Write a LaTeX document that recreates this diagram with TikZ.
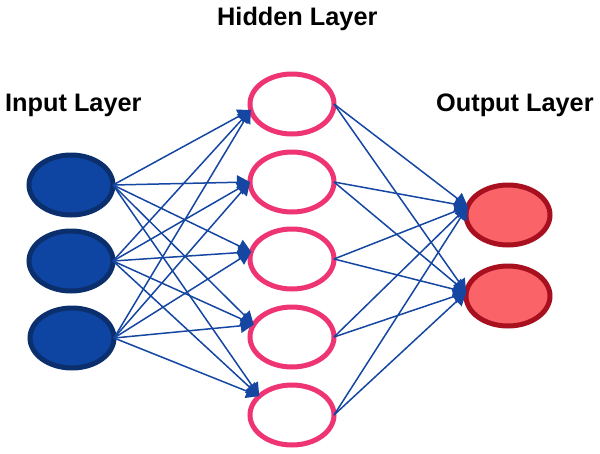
\documentclass[tikz,border=0pt]{standalone}
\usepackage{fontspec}
\setmainfont{Liberation Sans}
\usetikzlibrary{shapes.geometric,arrows.meta}
\definecolor{inFill}{HTML}{0E45A2}
\definecolor{inDraw}{HTML}{0B2F6D}
\definecolor{hidDraw}{HTML}{EF3473}
\definecolor{outFill}{HTML}{FA6468}
\definecolor{outDraw}{HTML}{A8101F}
\definecolor{edgeCol}{HTML}{1446A2}
\tikzset{
  neuron/.style={ellipse, line width=5pt, minimum width=84pt, minimum height=60pt, inner sep=0pt, outer sep=0pt},
  innode/.style={neuron, fill=inFill, draw=inDraw},
  hidnode/.style={neuron, fill=white, draw=hidDraw},
  outnode/.style={neuron, fill=outFill, draw=outDraw},
  conn/.style={draw=edgeCol, line width=1.5pt, -{Triangle[length=13pt,width=14pt]}},
  layerlabel/.style={font=\bfseries\fontsize{25.3}{30}\selectfont, inner sep=0pt, anchor=base west}
}
\begin{document}
\begin{tikzpicture}[x=1pt,y=-1pt]
\useasboundingbox (0,0) rectangle (600,453);
\node[layerlabel] (lh) at (217,25) {Hidden Layer};
\node[layerlabel] (li) at (5,111.5) {Input Layer};
\node[layerlabel] (lo) at (436,111.5) {Output Layer};

\node[innode] (i1) at (71,185) {};
\node[innode] (i2) at (71,261) {};
\node[innode] (i3) at (72,338) {};

\node[hidnode] (h1) at (292,104) {};
\node[hidnode] (h2) at (292,182) {};
\node[hidnode] (h3) at (292,259) {};
\node[hidnode] (h4) at (292,337) {};
\node[hidnode] (h5) at (292,415) {};

\node[outnode] (o1) at (508,215) {};
\node[outnode] (o2) at (508,296) {};

\foreach \h/\a in {h1/188,h2/180,h3/170,h4/162,h5/150}{
  \foreach \i in {i1,i2,i3}{
    \draw[conn] (\i.east) -- (\h.\a);
  }
}
\foreach \o/\a in {o1/168,o2/175}{
  \foreach \h in {h1,h2,h3,h4,h5}{
    \draw[conn] (\h.east) -- (\o.\a);
  }
}
\end{tikzpicture}
\end{document}
